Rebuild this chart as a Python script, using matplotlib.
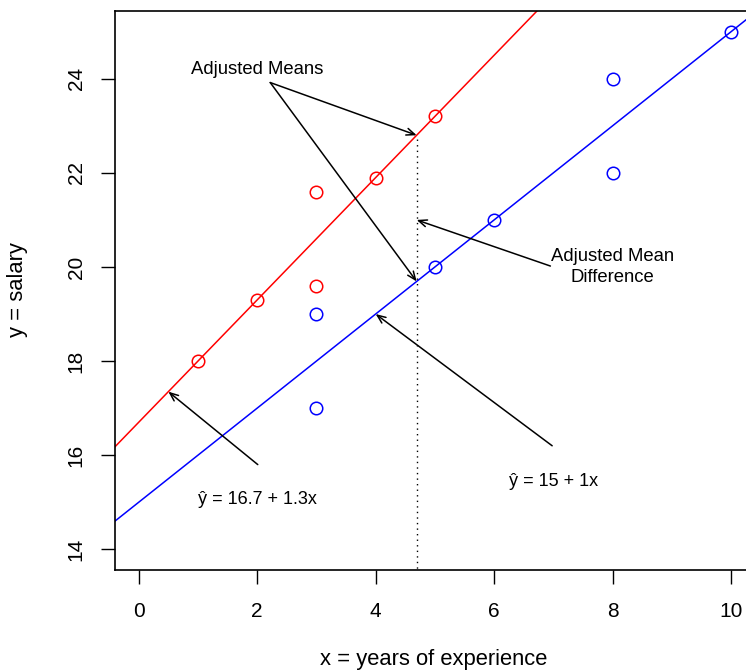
import matplotlib
matplotlib.use('Agg')
import matplotlib.pyplot as plt
import numpy as np

plt.rcParams['font.family'] = ['Liberation Sans', 'DejaVu Sans']

# group 1 (red) and group 2 (blue): years of experience vs salary
x_red = [1, 2, 3, 3, 4, 5]
y_red = [18, 19.3, 21.6, 19.6, 21.9, 23.2]
x_blue = [3, 3, 5, 6, 8, 8, 10]
y_blue = [19, 17, 20, 21, 24, 22, 25]

# fitted lines with a common slope per group
a_red, b_red = 16.7, 1.3
a_blue, b_blue = 15, 1

x_ticks = [0, 2, 4, 6, 8, 10]
y_ticks = [14, 16, 18, 20, 22, 24]

x_mean = np.mean(x_red + x_blue)

fig = plt.figure(figsize=(7.46, 6.72), dpi=100)
ax = fig.add_axes([0.1542, 0.1518, 0.8575, 0.8318])

ax.set_xlim(-0.4, 10.4)
ax.set_ylim(13.56, 25.44)

xs = np.array([-1, 12])
ax.plot(xs, a_red + b_red * xs, color='red', lw=1.1)
ax.plot(xs, a_blue + b_blue * xs, color='blue', lw=1.1)

ax.plot(x_red, y_red, 'o', mfc='none', mec='red', ms=9, mew=1.1)
ax.plot(x_blue, y_blue, 'o', mfc='none', mec='blue', ms=9, mew=1.1)

# vertical line at overall mean of x
y_top = a_red + b_red * x_mean
ax.plot([x_mean, x_mean], [13.0, y_top], color='black', ls=(0, (1, 3)), lw=1)

arrow = dict(arrowstyle='->,head_length=0.6,head_width=0.25', color='black', lw=1.1,
             shrinkA=0, shrinkB=0)
fs = 13.3

ax.text(2.0, 24.2, 'Adjusted Means', ha='center', va='center', fontsize=fs)
ax.annotate('', xy=(x_mean, y_top), xytext=(2.22, 23.92), arrowprops=arrow)
ax.annotate('', xy=(x_mean, a_blue + b_blue * x_mean), xytext=(2.22, 23.92), arrowprops=arrow)

ax.text(8.0, 20.0, 'Adjusted Mean\nDifference', ha='center', va='center', fontsize=fs,
        linespacing=1.25)
ax.annotate('', xy=(x_mean, 21.0), xytext=(6.95, 20.02), arrowprops=arrow)

ax.text(7.0, 15.45, 'ŷ = 15 + 1x', ha='center', va='center', fontsize=13)
ax.annotate('', xy=(4.0, 19.0), xytext=(6.98, 16.2), arrowprops=arrow)

ax.text(2.0, 15.05, 'ŷ = 16.7 + 1.3x', ha='center', va='center', fontsize=13)
ax.annotate('', xy=(0.5, a_red + b_red * 0.5), xytext=(2.01, 15.8), arrowprops=arrow)

ax.set_xticks(x_ticks)
ax.set_yticks(y_ticks)
ax.set_yticklabels([str(t) for t in y_ticks], rotation=90, va='center')
ax.tick_params(axis='both', length=10, width=1, labelsize=15)
ax.tick_params(axis='x', pad=13)
ax.tick_params(axis='y', pad=11)
for s in ax.spines.values():
    s.set_linewidth(1.2)

fig.text(433.5 / 746, 12 / 672, 'x = years of experience',
         ha='center', va='center', fontsize=15.8)
fig.text(18 / 746, 1 - 290 / 672, 'y = salary', ha='center', va='center',
         rotation=90, fontsize=15.8)

fig.savefig('out.png', dpi=100)
